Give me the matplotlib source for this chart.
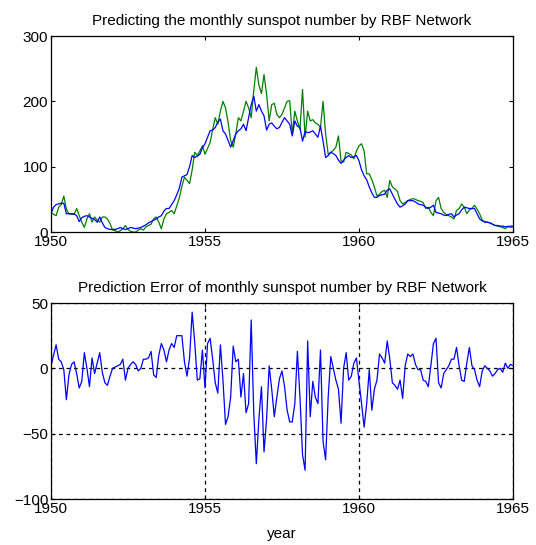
import numpy as np
import matplotlib
matplotlib.use("Agg")
from matplotlib import pyplot as plt

plt.rcParams['font.family'] = ['Liberation Sans', 'DejaVu Sans']

# monthly values, Jan 1950 .. Jan 1965
actual = [30, 27, 25, 38, 42, 55, 35, 28, 27, 27, 36, 25,
          15, 7, 20, 28, 15, 23, 18, 15, 23, 23, 20, 13,
          3, 2, 0, 2, 5, 10, 4, 1, 0, 0, 3, 5,
          3, 8, 10, 12, 20, 23, 15, 5, 20, 28, 30, 33,
          28, 40, 52, 70, 84, 79, 74, 95, 122, 117, 124, 132,
          119, 128, 137, 157, 175, 165, 185, 200, 190, 168, 140, 130,
          150, 175, 170, 185, 200, 190, 175, 216, 252, 225, 212, 241,
          211, 170, 195, 197, 180, 175, 180, 190, 200, 201, 150, 185,
          170, 157, 218, 145, 185, 170, 172, 167, 165, 160, 200, 150,
          119, 122, 125, 130, 147, 109, 107, 122, 120, 118, 112, 124,
          132, 135, 124, 89, 89, 80, 69, 55, 58, 62, 64, 53,
          79, 69, 66, 62, 48, 43, 45, 48, 50, 51, 50, 48,
          47, 45, 36, 38, 30, 25, 48, 53, 36, 30, 27, 25,
          23, 20, 33, 36, 43, 38, 28, 34, 36, 41, 35, 28,
          18, 16, 15, 14, 12, 10, 9, 8, 7, 5, 9, 7,
          8]

predicted = [28, 38, 42, 43, 44, 44, 28, 28, 28, 28, 25, 16,
             22, 24, 25, 23, 21, 19, 15, 23, 14, 7, 5, 4,
             4, 4, 5, 7, 5, 4, 5, 7, 6, 5, 6, 7,
             9, 11, 14, 16, 18, 20, 23, 25, 32, 36, 36, 42,
             48, 57, 67, 84, 86, 88, 100, 117, 114, 116, 119, 129,
             135, 145, 155, 156, 160, 168, 173, 155, 150, 140, 130, 140,
             150, 155, 158, 165, 155, 175, 195, 208, 185, 195, 185, 178,
             156, 165, 167, 162, 158, 160, 168, 175, 170, 165, 147, 170,
             162, 160, 139, 154, 152, 153, 155, 150, 145, 162, 139, 114,
             117, 122, 120, 117, 110, 105, 110, 114, 117, 114, 115, 117,
             109, 95, 86, 80, 69, 60, 53, 53, 56, 57, 58, 64,
             66, 58, 50, 43, 38, 40, 43, 48, 48, 48, 46, 43,
             42, 41, 38, 36, 38, 41, 30, 29, 28, 26, 25, 27,
             28, 23, 26, 28, 34, 38, 37, 36, 36, 36, 28, 20,
             17, 15, 15, 14, 12, 10, 10, 9, 9, 8, 8, 9,
             9]

error = [2, 10, 18, 7, 5, -1, -24, -5, 3, 5, -4, -15,
         -10, 12, 0, -14, 8, -4, 4, 12, -3, -11, -13, -6,
         0, 1, 2, 3, 7, -9, 0, 3, 5, 3, -2, 0,
         7, 7, 8, 13, -5, -7, 10, 19, 14, 5, 14, 19,
         16, 25, 25, 25, 5, -6, 8, 43, 20, -9, -8, 14,
         -15, 19, 23, 7, -11, -19, 18, -9, -43, -37, -22, 17,
         5, 7, -22, -4, -34, -27, 37, -34, -73, -39, -14, -64,
         -39, 2, -16, -37, -22, -8, -2, -14, -32, -41, -41, -27,
         13, -22, -66, -78, 21, -37, -10, -22, -27, 14, -56, -70,
         -22, 9, 0, -9, -16, -42, 0, 12, -9, -6, 4, 8,
         -10, -27, -45, -27, -1, -32, -16, -9, 11, 8, 4, 21,
         7, -11, -13, -16, -9, -23, 2, 11, 9, 11, 3, -1,
         -1, -9, -10, -14, 2, 19, 23, -11, -15, -4, -1, 2,
         7, 7, 16, 2, -9, -10, 4, 16, 2, -1, -9, -14,
         -2, 2, 0, -2, -6, -4, -1, 0, -3, 4, 0, 3,
         2]

years = 1950 + np.arange(len(actual)) / 12.0

fig = plt.figure(figsize=(5.36, 5.45), dpi=100)
ax1 = fig.add_axes([0.0951, 0.5743, 0.862, 0.3596])
ax2 = fig.add_axes([0.0951, 0.0844, 0.862, 0.3596])

fs = 11
blue = (0, 0, 1)
green = (0, 0.5, 0)

ax1.plot(years, actual, color=green, lw=0.9)
ax1.plot(years, predicted, color=blue, lw=0.9)
ax1.set_xlim(1950, 1965)
ax1.set_ylim(0, 300)
ax1.set_xticks([1950, 1955, 1960, 1965])
ax1.set_yticks([0, 100, 200, 300])
ax1.set_title('Predicting the monthly sunspot number by RBF Network', fontsize=fs, pad=8)

ax2.plot(years, error, color=blue, lw=0.9)
ax2.set_xlim(1950, 1965)
ax2.set_ylim(-100, 50)
ax2.set_xticks([1950, 1955, 1960, 1965])
ax2.set_yticks([-100, -50, 0, 50])
ax2.grid(True, color='k', linestyle=(0, (3, 3)), linewidth=0.9)
ax2.set_title('Prediction Error of monthly sunspot number by RBF Network', fontsize=fs, pad=8)
ax2.set_xlabel('year', fontsize=fs, labelpad=8)

for ax in (ax1, ax2):
    ax.tick_params(direction='in', length=3, width=0.8, top=True, right=True,
                   labelsize=fs, colors='k', pad=2)
    for s in ax.spines.values():
        s.set_linewidth(0.9)
        s.set_color('k')

fig.savefig('out.png', dpi=100)
